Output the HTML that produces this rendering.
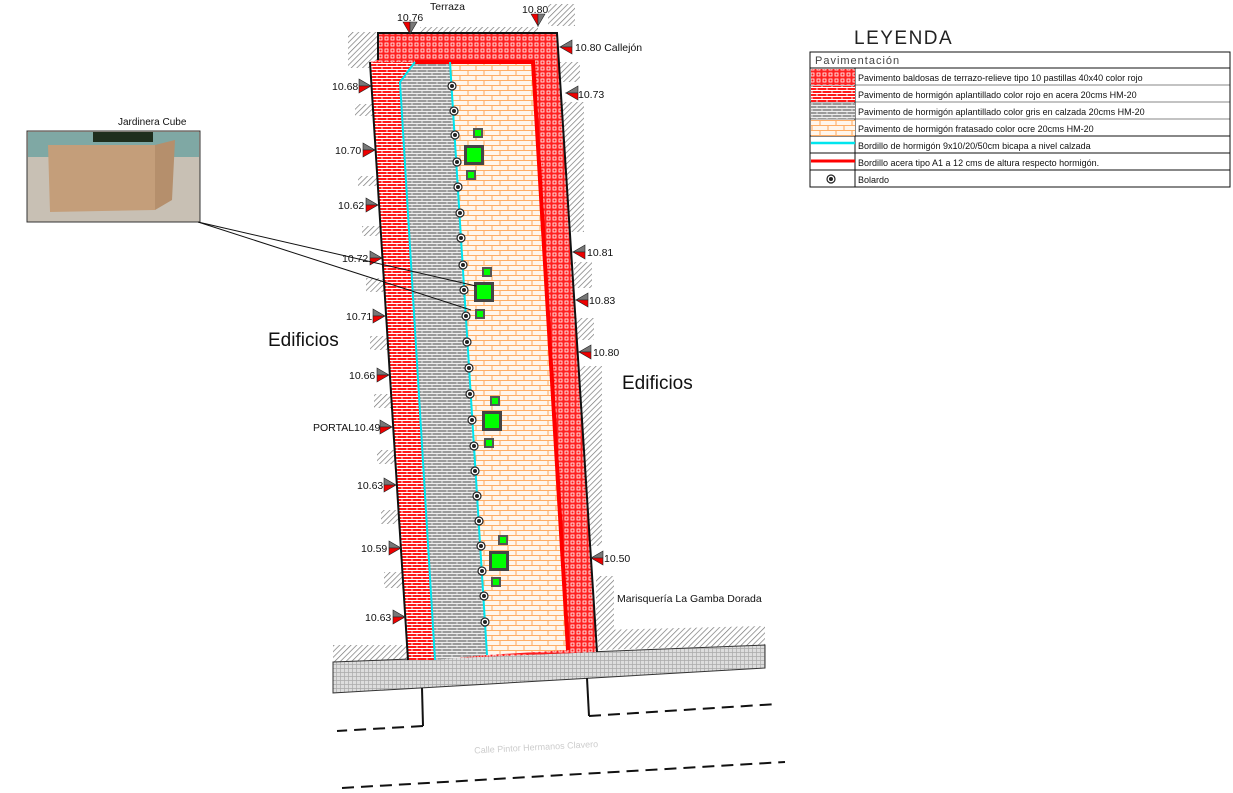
<!DOCTYPE html>
<html><head><meta charset="utf-8"><style>
html,body{margin:0;padding:0;background:#fff;width:1233px;height:793px;overflow:hidden}
svg{display:block;font-family:"Liberation Sans",sans-serif}
</style></head><body>
<svg width="1233" height="793" viewBox="0 0 1233 793" xmlns="http://www.w3.org/2000/svg">
<defs>
<pattern id="terr" width="6" height="6" patternUnits="userSpaceOnUse"><rect width="6" height="6" fill="#ff2020"/><rect x="1" y="1" width="3" height="3" fill="none" stroke="#fff" stroke-width="0.8"/></pattern>
<pattern id="rbrick" width="10" height="6" patternUnits="userSpaceOnUse"><rect width="10" height="6" fill="#ff1a1a"/><path d="M0 0.5H10M0 3.5H10M2 0.5V3.5M7 3.5V6" stroke="#fff" stroke-width="0.9"/></pattern>
<pattern id="gbrick" width="10" height="6" patternUnits="userSpaceOnUse"><rect width="10" height="6" fill="#9a9a9a"/><path d="M0 0.5H10M0 3.5H10M2 0.5V3.5M7 3.5V6" stroke="#eee" stroke-width="0.9"/></pattern>
<pattern id="obrick" width="16" height="10" patternUnits="userSpaceOnUse"><rect width="16" height="10" fill="#fff6ec"/><path d="M0 0.5H16M0 5.5H16M4 0.5V5.5M12 5.5V10" stroke="#ffae66" stroke-width="1.1"/></pattern>
<pattern id="hatch" width="4" height="4" patternUnits="userSpaceOnUse" patternTransform="rotate(45)"><rect width="4" height="4" fill="#fff"/><line x1="0" y1="0" x2="0" y2="4" stroke="#777" stroke-width="1.4"/></pattern>
<pattern id="walk" width="4" height="4" patternUnits="userSpaceOnUse"><rect width="4" height="4" fill="#ddd"/><path d="M0 0.5H4M0.5 0V4" stroke="#aaa" stroke-width="0.7"/></pattern>
<g id="bol"><circle r="4" fill="#fff" stroke="#222" stroke-width="1.2"/><circle r="2" fill="#222"/></g>
<g id="sq"><rect x="-5" y="-5" width="10" height="10" fill="#555"/><rect x="-3" y="-3" width="6" height="6" fill="#0f0"/></g>
<g id="bsq"><rect x="-10" y="-10" width="20" height="20" fill="#444"/><rect x="-7" y="-7" width="14" height="14" fill="#0f0"/></g>
<g id="mkL"><polygon points="0,-7 12,0 0,0" fill="#777" stroke="#222" stroke-width="0.6"/><polygon points="0,0 12,0 0,7" fill="#e00" stroke="#222" stroke-width="0.6"/></g>
<g id="mkR"><polygon points="0,-7 -12,0 0,0" fill="#777" stroke="#222" stroke-width="0.6"/><polygon points="0,0 -12,0 0,7" fill="#e00" stroke="#222" stroke-width="0.6"/></g>
<g id="mkD"><polygon points="-7,0 0,12 0,0" fill="#e00" stroke="#222" stroke-width="0.6"/><polygon points="0,0 0,12 7,0" fill="#777" stroke="#222" stroke-width="0.6"/></g>
</defs>

<!-- building hatches -->
<rect x="348" y="32" width="30" height="36" fill="url(#hatch)"/>
<rect x="420" y="27" width="118" height="6" fill="url(#hatch)"/>
<rect x="548" y="4" width="27" height="22" fill="url(#hatch)"/>
<g fill="url(#hatch)">
<rect x="355" y="104" width="20" height="12"/><rect x="358" y="176" width="20" height="10"/><rect x="362" y="226" width="20" height="10"/>
<rect x="366" y="278" width="20" height="14"/><rect x="370" y="336" width="20" height="14"/><rect x="374" y="394" width="20" height="14"/>
<rect x="377" y="450" width="20" height="14"/><rect x="381" y="510" width="20" height="14"/><rect x="384" y="572" width="22" height="16"/>
<rect x="560" y="62" width="20" height="20"/><rect x="562" y="102" width="22" height="130"/><rect x="574" y="262" width="18" height="26"/>
<rect x="576" y="318" width="18" height="22"/><rect x="580" y="366" width="22" height="180"/><rect x="596" y="576" width="18" height="60"/>
</g>
<polygon points="333,645 410,645 410,662 333,662" fill="url(#hatch)"/>
<polygon points="598,630 765,626 765,645 598,650" fill="url(#hatch)"/>
<!-- sidewalk -->
<polygon points="333,662 765,645 765,668 333,693" fill="url(#walk)" stroke="#333" stroke-width="1"/>

<!-- main strip -->
<polygon points="378,33 557,33 597,652 408,660 370,62 378,60" fill="url(#terr)"/>
<polygon points="370,62 415,62 400,82 435,660 408,660" fill="url(#rbrick)"/>
<polygon points="415,62 450,62 487,655 435,660 400,82" fill="url(#gbrick)"/>
<polygon points="450,62 533,62 568,650 487,655" fill="url(#obrick)"/>
<polyline points="415,62 533,62 568,650" fill="none" stroke="#ff0000" stroke-width="4"/>
<polyline points="415,62 400,82 435,660" fill="none" stroke="#00e5ee" stroke-width="2"/>
<line x1="450" y1="62" x2="487" y2="655" stroke="#00e5ee" stroke-width="2"/>
<polyline points="378,60 378,33 557,33 597,652" fill="none" stroke="#111" stroke-width="2"/>
<polyline points="370,62 408,660" fill="none" stroke="#111" stroke-width="2"/>

<!-- bollards -->
<g>
<use href="#bol" x="452" y="86"/><use href="#bol" x="454" y="111"/><use href="#bol" x="455" y="135"/><use href="#bol" x="457" y="162"/><use href="#bol" x="458" y="187"/>
<use href="#bol" x="460" y="213"/><use href="#bol" x="461" y="238"/><use href="#bol" x="463" y="265"/><use href="#bol" x="464" y="290"/><use href="#bol" x="466" y="316"/>
<use href="#bol" x="467" y="342"/><use href="#bol" x="469" y="368"/><use href="#bol" x="470" y="394"/><use href="#bol" x="472" y="420"/><use href="#bol" x="474" y="446"/>
<use href="#bol" x="475" y="471"/><use href="#bol" x="477" y="496"/><use href="#bol" x="479" y="521"/><use href="#bol" x="481" y="546"/><use href="#bol" x="482" y="571"/>
<use href="#bol" x="484" y="596"/><use href="#bol" x="485" y="622"/>
</g>
<use href="#sq" x="478" y="133"/><use href="#bsq" x="474" y="155"/><use href="#sq" x="471" y="175"/>
<use href="#sq" x="487" y="272"/><use href="#bsq" x="484" y="292"/><use href="#sq" x="480" y="314"/>
<use href="#sq" x="495" y="401"/><use href="#bsq" x="492" y="421"/><use href="#sq" x="489" y="443"/>
<use href="#sq" x="503" y="540"/><use href="#bsq" x="499" y="561"/><use href="#sq" x="496" y="582"/>

<!-- markers -->
<g font-size="10.5" fill="#111">
<use href="#mkD" x="410" y="22"/><text x="397" y="21">10.76</text>
<use href="#mkD" x="538" y="14"/><text x="522" y="13">10.80</text>
<text x="430" y="10">Terraza</text>
<use href="#mkR" x="572" y="47"/><text x="575" y="51">10.80 Callejón</text>
<use href="#mkR" x="578" y="93"/><text x="578" y="98">10.73</text>
<use href="#mkR" x="585" y="252"/><text x="587" y="256">10.81</text>
<use href="#mkR" x="588" y="300"/><text x="589" y="304">10.83</text>
<use href="#mkR" x="591" y="352"/><text x="593" y="356">10.80</text>
<use href="#mkR" x="603" y="558"/><text x="604" y="562">10.50</text>
<use href="#mkL" x="359" y="86"/><text x="332" y="90">10.68</text>
<use href="#mkL" x="363" y="150"/><text x="335" y="154">10.70</text>
<use href="#mkL" x="366" y="205"/><text x="338" y="209">10.62</text>
<use href="#mkL" x="370" y="258"/><text x="342" y="262">10.72</text>
<use href="#mkL" x="373" y="316"/><text x="346" y="320">10.71</text>
<use href="#mkL" x="377" y="375"/><text x="349" y="379">10.66</text>
<use href="#mkL" x="380" y="427"/><text x="313" y="431">PORTAL10.49</text>
<use href="#mkL" x="384" y="485"/><text x="357" y="489">10.63</text>
<use href="#mkL" x="389" y="548"/><text x="361" y="552">10.59</text>
<use href="#mkL" x="393" y="617"/><text x="365" y="621">10.63</text>
<text x="617" y="602">Marisquería La Gamba Dorada</text>
</g>
<text x="268" y="346" font-size="19" fill="#111">Edificios</text>
<text x="622" y="389" font-size="19" fill="#111">Edificios</text>

<!-- dashed street -->
<g stroke="#111" stroke-width="2" fill="none">
<polyline points="422,688 423,726"/><polyline points="587,678 589,716"/>
<polyline points="423,726 337,731" stroke-dasharray="12,7"/>
<polyline points="589,716 777,704" stroke-dasharray="12,7"/>
<polyline points="342,788 785,762" stroke-dasharray="12,7"/>
</g>
<text x="474" y="750" font-size="9" fill="#ccc" transform="rotate(-3 540 745)">Calle Pintor Hermanos Clavero</text>

<!-- photo -->
<text x="118" y="125" font-size="10" fill="#111">Jardinera Cube</text>
<rect x="27" y="131" width="173" height="91" fill="#c8c0b4" stroke="#333" stroke-width="1"/>
<rect x="28" y="132" width="171" height="25" fill="#7fa8a4"/>
<polygon points="48,145 155,145 155,210 50,212" fill="#c49e7a"/>
<polygon points="155,145 175,140 172,200 155,210" fill="#b58f6c"/>
<rect x="93" y="132" width="60" height="10" fill="#1e2e1e"/>
<line x1="198" y1="222" x2="476" y2="286" stroke="#111" stroke-width="1"/>
<line x1="198" y1="222" x2="471" y2="310" stroke="#111" stroke-width="1"/>

<!-- legend -->
<text x="854" y="44" font-size="19" fill="#222" letter-spacing="1.5">LEYENDA</text>
<g stroke="#111" stroke-width="1">
<rect x="810" y="52" width="420" height="135" fill="#fff"/>
<line x1="810" y1="68" x2="1230" y2="68"/>
<line x1="855" y1="68" x2="855" y2="187"/>
<line x1="810" y1="85" x2="1230" y2="85" stroke-width="0.6"/>
<line x1="810" y1="102" x2="1230" y2="102" stroke-width="0.6"/>
<line x1="810" y1="119" x2="1230" y2="119" stroke-width="0.6"/>
<line x1="810" y1="136" x2="1230" y2="136"/>
<line x1="810" y1="153" x2="1230" y2="153"/>
<line x1="810" y1="170" x2="1230" y2="170"/>
</g>
<rect x="811" y="69" width="44" height="16" fill="url(#terr)"/>
<rect x="811" y="86" width="44" height="16" fill="url(#rbrick)"/>
<rect x="811" y="103" width="44" height="16" fill="url(#gbrick)"/>
<rect x="811" y="120" width="44" height="16" fill="url(#obrick)"/>
<line x1="811" y1="143" x2="855" y2="143" stroke="#00e5ee" stroke-width="2.5"/>
<line x1="811" y1="161" x2="855" y2="161" stroke="#f00" stroke-width="3"/>
<use href="#bol" x="831" y="179"/>
<g font-size="9" fill="#111">
<text x="815" y="64" font-size="11" fill="#444" letter-spacing="1">Pavimentación</text>
<text x="858" y="81">Pavimento baldosas de terrazo-relieve tipo 10 pastillas 40x40 color rojo</text>
<text x="858" y="98">Pavimento de hormigón aplantillado color rojo en acera 20cms HM-20</text>
<text x="858" y="115">Pavimento de hormigón aplantillado color gris en calzada 20cms HM-20</text>
<text x="858" y="132">Pavimento de hormigón fratasado color ocre  20cms HM-20</text>
<text x="858" y="149">Bordillo de hormigón 9x10/20/50cm bicapa a nivel calzada</text>
<text x="858" y="166">Bordillo acera tipo A1 a 12 cms de altura respecto hormigón.</text>
<text x="858" y="183">Bolardo</text>
</g>
</svg>
</body></html>
